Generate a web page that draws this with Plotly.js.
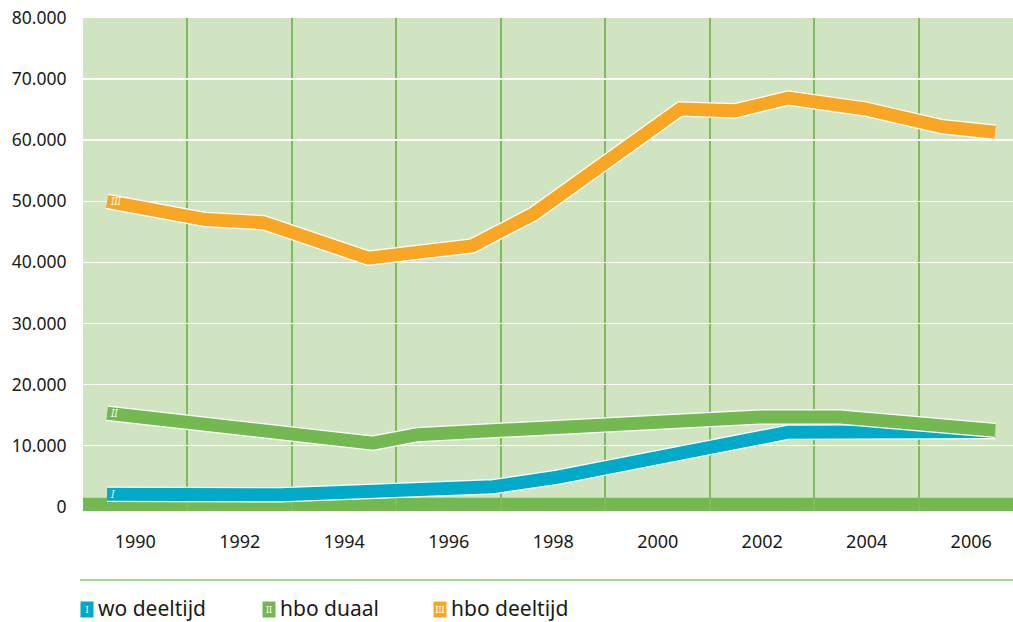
<!DOCTYPE html>
<html>
<head>
<meta charset="utf-8">
<script src="https://cdn.plot.ly/plotly-3.0.1.min.js"></script>
<style>
  html, body { margin: 0; padding: 0; background: #ffffff; }
  #chart { width: 1013px; height: 622px; }
</style>
</head>
<body>
<div id="chart"></div>
<script>
// ---- Data ----
const seriesNames = ["wo deeltijd", "hbo duaal", "hbo deeltijd"];
const seriesMarks = ["I", "II", "III"];

const woYears  = [1989.46, 1992.8, 1996.85, 1998.08, 2002.5, 2006.46];
const woValues = [2050, 1950, 3270, 4830, 12200, 12300];

const duaalYears  = [1989.46, 1994.55, 1995.4, 2001.96, 2003.49, 2006.46];
const duaalValues = [15300, 10400, 11800, 14700, 14700, 12500];

const deeltijdYears  = [1989.46, 1991.34, 1992.45, 1994.46, 1996.45, 1997.62, 2000.43, 2001.48, 2002.5, 2003.97, 2005.45, 2006.46];
const deeltijdValues = [50000, 47000, 46500, 40700, 42700, 47900, 65100, 64800, 66900, 65100, 62200, 61300];

const yTickVals  = [0, 10000, 20000, 30000, 40000, 50000, 60000, 70000, 80000];
const yTickTexts = ["0", "10.000", "20.000", "30.000", "40.000", "50.000", "60.000", "70.000", "80.000"];
const yGridVals  = [10000, 20000, 30000, 40000, 50000, 60000, 70000];
const xTickVals  = [1990, 1992, 1994, 1996, 1998, 2000, 2002, 2004, 2006];
const xGridVals  = [1991, 1993, 1995, 1997, 1999, 2001, 2003, 2005];

// ---- Styles ----
const colors = ["#00aac8", "#74b852", "#f8a623"];
const plotBg = "#d0e4c2";
const vGridColor = "#7cbf5a";
const textColor = "#1a1a1a";
const FONT = "Noto Sans, Open Sans, sans-serif";

const W = 1013, H = 622;
const M = { l: 83, r: 0, t: 18, b: 111 };
const plotH = H - M.t - M.b;
const plotW = W - M.l - M.r;
const py = (pix) => (H - M.b - pix) / plotH;   // pixel y -> paper y
const px = (pix) => (pix - M.l) / plotW;       // pixel x -> paper x

const xs = [woYears, duaalYears, deeltijdYears];
const ys = [woValues, duaalValues, deeltijdValues];

const traces = [];
for (let i = 0; i < 3; i++) {
  traces.push({
    x: xs[i], y: ys[i], type: "scatter", mode: "lines",
    line: { color: "#ffffff", width: 15.5 },
    hoverinfo: "skip", showlegend: false
  });
  traces.push({
    x: xs[i], y: ys[i], type: "scatter", mode: "lines",
    name: seriesNames[i],
    line: { color: colors[i], width: 13 },
    showlegend: false
  });
}

const annotations = [];
// small roman numerals at the start of each band
for (let i = 0; i < 3; i++) {
  annotations.push({
    x: xs[i][0], y: ys[i][0], xref: "x", yref: "y",
    text: "<i>" + seriesMarks[i] + "</i>",
    showarrow: false, xanchor: "left", yanchor: "middle", xshift: 1,
    font: { family: FONT, size: 10, color: "#ffffff" }
  });
}

// custom legend
const legendIconX = [80, 262, 433];
const legendY = 609;
for (let i = 0; i < 3; i++) {
  annotations.push({
    x: px(legendIconX[i]), y: py(legendY), xref: "paper", yref: "paper",
    text: seriesMarks[i],
    showarrow: false, xanchor: "left", yanchor: "middle",
    bgcolor: colors[i], width: 12, height: 15, borderpad: 0,
    font: { family: FONT, size: 9, color: "#ffffff" }
  });
  annotations.push({
    x: px(legendIconX[i] + 16), y: py(legendY - 1), xref: "paper", yref: "paper",
    text: seriesNames[i],
    showarrow: false, xanchor: "left", yanchor: "middle",
    font: { family: FONT, size: 21, color: textColor }
  });
}

const shapes = [
  // thick green base bar at zero
  { type: "rect", xref: "paper", yref: "y", x0: 0, x1: 1, y0: -700, y1: 1450,
    fillcolor: colors[1], line: { width: 0 }, layer: "below" },
  // legend separator line
  { type: "line", xref: "paper", yref: "paper", x0: px(80), x1: 1, y0: py(580), y1: py(580),
    line: { color: "#a6d58f", width: 2 } }
];

const layout = {
  width: W, height: H,
  margin: M,
  paper_bgcolor: "#ffffff",
  plot_bgcolor: plotBg,
  showlegend: false,
  font: { family: FONT, color: textColor },
  xaxis: {
    range: [1989.0, 2006.8],
    tickmode: "array",
    tickvals: xTickVals,
    ticktext: xTickVals.map(String),
    showgrid: false,
    zeroline: false,
    showline: false,
    ticks: "outside", ticklen: 14, tickcolor: "rgba(0,0,0,0)",
    tickfont: { family: FONT, size: 18, color: textColor },
    minor: { tickmode: "array", tickvals: xGridVals, showgrid: true, gridcolor: vGridColor, gridwidth: 2, ticks: "" }
  },
  yaxis: {
    range: [-700, 80000],
    tickmode: "array",
    tickvals: yTickVals,
    ticktext: yTickTexts,
    showgrid: false,
    zeroline: false, showline: false,
    ticks: "outside", ticklen: 12, tickcolor: "rgba(0,0,0,0)",
    tickfont: { family: FONT, size: 17.5, color: textColor },
    minor: { tickmode: "array", tickvals: yGridVals, showgrid: true, gridcolor: "#ffffff", gridwidth: 1.5, ticks: "" }
  },
  shapes: shapes,
  annotations: annotations
};

Plotly.newPlot("chart", traces, layout, { displayModeBar: false, staticPlot: true });
</script>
</body>
</html>
